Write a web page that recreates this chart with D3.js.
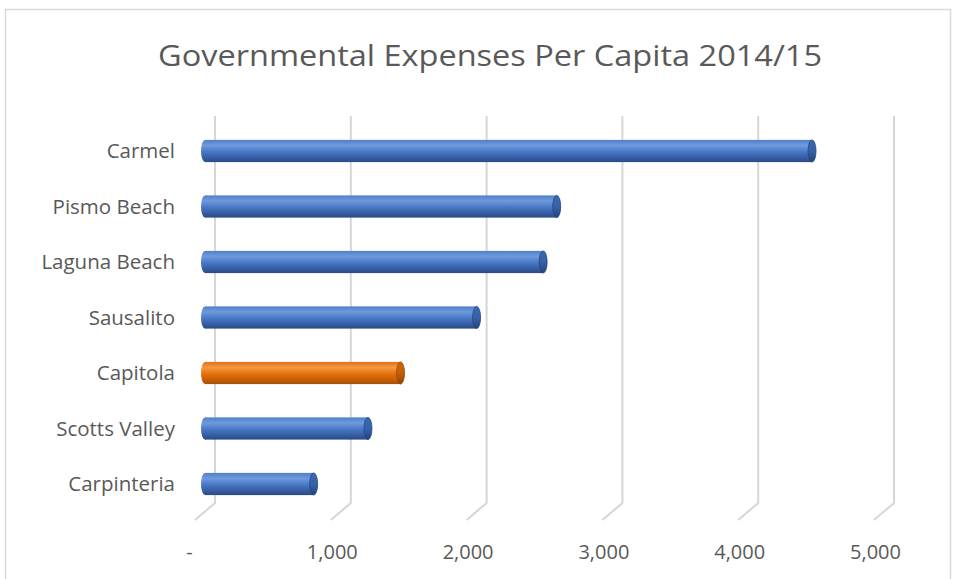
<!DOCTYPE html>
<html><head><meta charset="utf-8">
<script src="https://cdn.jsdelivr.net/npm/d3@7/dist/d3.min.js"></script>
<style>html,body{margin:0;padding:0;background:#fff;}svg{display:block;}</style>
</head><body>
<script>
const title = "Governmental Expenses Per Capita 2014/15";
const categories = ["Carmel","Pismo Beach","Laguna Beach","Sausalito","Capitola","Scotts Valley","Carpinteria"];
const values = [4470, 2590, 2490, 2000, 1440, 1200, 800];
const highlight = ["Capitola"];
const tickValues = [0, 1000, 2000, 3000, 4000, 5000];
const tickLabels = ["-", "1,000", "2,000", "3,000", "4,000", "5,000"];

const W = 956, H = 579;
const svg = d3.select("body").append("svg").attr("width", W).attr("height", H);
const font = "'Open Sans', 'Liberation Sans', sans-serif";

// chart border
svg.append("rect").attr("x", 5.5).attr("y", 9.5).attr("width", 945).attr("height", 580)
  .attr("fill", "#fff").attr("stroke", "#d9d9d9").attr("stroke-width", 1.5);

const defs = svg.append("defs");
function grad(id, stops) {
  const g = defs.append("linearGradient").attr("id", id).attr("x1", 0).attr("y1", 0).attr("x2", 0).attr("y2", 1);
  stops.forEach(s => g.append("stop").attr("offset", s[0]).attr("stop-color", s[1]));
}
grad("gBlue", [[0, "#4f7fca"], [0.25, "#6f9ade"], [0.55, "#4776c4"], [1, "#284a88"]]);
grad("gOrange", [[0, "#e2720e"], [0.25, "#f49845"], [0.55, "#e6700a"], [1, "#a84f05"]]);
grad("gBlueCap", [[0, "#3c68b0"], [0.5, "#3762aa"], [1, "#234276"]]);
grad("gOrangeCap", [[0, "#cf6409"], [0.5, "#c45f08"], [1, "#8f4303"]]);

// scales (back plane of 3D chart)
const x = d3.scaleLinear().domain([0, 5000]).range([215, 894]);
const y = d3.scaleBand().domain(categories).range([123.25, 511.75]).paddingInner(0.6).paddingOuter(0.3);
const dx = -20, dy = 17; // depth offset to front floor
const barShift = -10;
const gridTop = 116, gridBottom = 503;

// gridlines with 3D floor bend
const grid = svg.append("g");
tickValues.forEach(v => {
  const xb = x(v);
  grid.append("path")
    .attr("d", `M${xb},${gridTop} L${xb},${gridBottom} L${xb + dx},${gridBottom + dy}`)
    .attr("fill", "none").attr("stroke", "#d6d6d6").attr("stroke-width", 2);
});

// x tick labels
svg.append("g").selectAll("text").data(tickValues).join("text")
  .attr("x", (d) => x(d) + dx + 1.5 - (d === 0 ? 7 : 0))
  .attr("y", 559)
  .attr("text-anchor", "middle")
  .attr("font-family", font).attr("font-size", 20).attr("fill", "#595959")
  .text((d, i) => tickLabels[i]);

// category labels
svg.append("g").selectAll("text").data(categories).join("text")
  .attr("x", 175)
  .attr("y", d => y(d) + y.bandwidth() / 2 + 7)
  .attr("text-anchor", "end")
  .attr("font-family", font).attr("font-size", 20.5).attr("fill", "#595959")
  .text(d => d);

// cylinders
const bars = svg.append("g");
const rx = 4;
categories.forEach((c, i) => {
  const v = values[i];
  const isHi = highlight.includes(c);
  const x0 = x(0) + barShift, x1 = x(v) + barShift;
  const yt = y(c), h = y.bandwidth(), ry = h / 2;
  const g = bars.append("g");
  g.append("ellipse").attr("cx", x0).attr("cy", yt + ry).attr("rx", rx).attr("ry", ry)
    .attr("fill", isHi ? "url(#gOrange)" : "url(#gBlue)");
  g.append("rect").attr("x", x0).attr("y", yt).attr("width", x1 - x0).attr("height", h)
    .attr("fill", isHi ? "url(#gOrange)" : "url(#gBlue)");
  g.append("ellipse").attr("cx", x1).attr("cy", yt + ry).attr("rx", rx).attr("ry", ry)
    .attr("fill", isHi ? "url(#gOrangeCap)" : "url(#gBlueCap)")
    .attr("stroke", isHi ? "#9a4a05" : "#254680").attr("stroke-width", 0.8);
});

// title
const t = svg.append("text").attr("x", 490).attr("y", 66).attr("text-anchor", "middle")
  .attr("font-family", font).attr("font-size", 30).attr("fill", "#595959").text(title);
t.attr("textLength", 664).attr("lengthAdjust", "spacingAndGlyphs");
</script>
</body></html>
